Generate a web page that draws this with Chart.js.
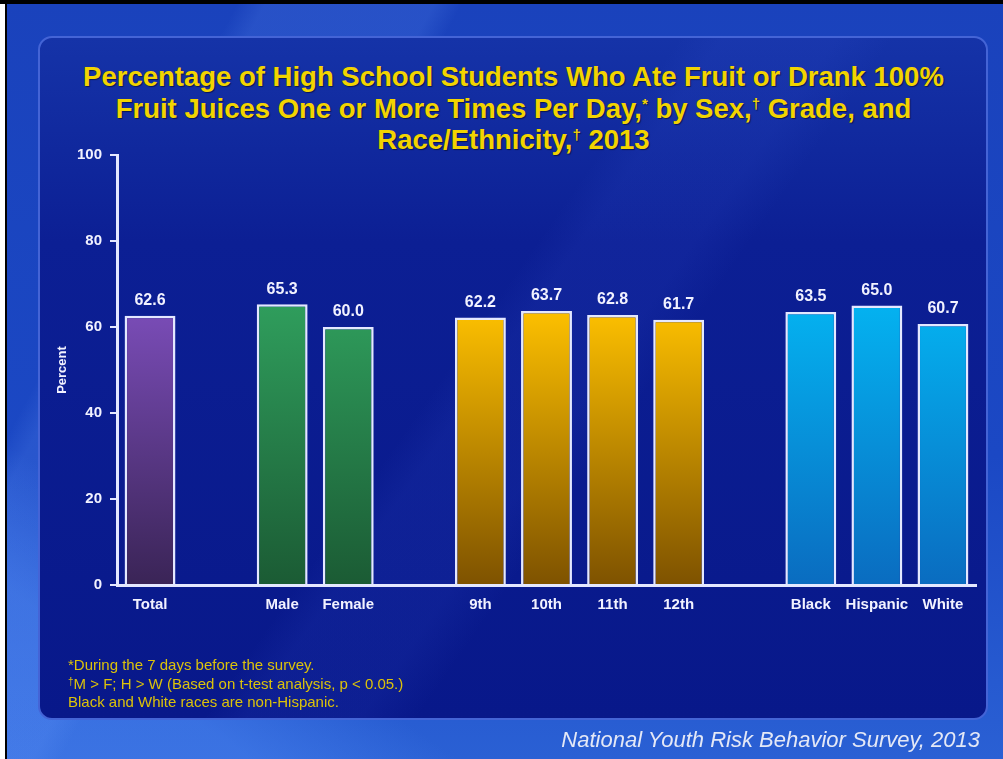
<!DOCTYPE html>
<html>
<head>
<meta charset="utf-8">
<title>Fruit or 100% fruit juice, YRBS 2013</title>
<script src="https://cdn.jsdelivr.net/npm/chart.js@4.4.1/dist/chart.umd.min.js"></script>
<style>
    html, body { margin: 0; padding: 0; }
    body {
        width: 1003px; height: 759px; overflow: hidden; position: relative;
        font-family: Arial, "Liberation Sans", sans-serif;
        background:
            linear-gradient(118deg, rgba(255,255,255,0) 0 17%, rgba(110,160,255,0.16) 19% 31%, rgba(255,255,255,0) 33%),
            linear-gradient(35deg, rgba(90,150,255,0.35) 0 12%, rgba(255,255,255,0) 22%),
            linear-gradient(180deg, #1a42bc 0%, #1b48c4 60%, #2a60d4 100%);
    }
    .borde-blanco { position: absolute; left: 0; top: 0; width: 5px; height: 759px; background: #fff; }
    .borde-negro-izq { position: absolute; left: 5px; top: 0; width: 2px; height: 759px; background: #000; }
    .borde-negro-sup { position: absolute; left: 0; top: 0; width: 1003px; height: 4px; background: #000; }
    .panel {
        position: absolute; left: 38px; top: 36px; width: 950px; height: 684px;
        border-radius: 14px; box-sizing: border-box;
        border: 2px solid #4464d6;
        background:
            linear-gradient(125deg, rgba(255,255,255,0) 0 45%, rgba(60,90,220,0.10) 48% 56%, rgba(255,255,255,0) 60%),
            linear-gradient(180deg, #1533a8 0%, #0c1f94 30%, #08188a 100%);
    }
    .titulo {
        position: absolute; left: 24px; top: 61px; width: 979px; text-align: center;
        color: #f2d400; font-weight: bold; font-size: 27.5px; line-height: 31.5px;
        text-shadow: 1px 1px 1px rgba(0,0,0,0.5);
    }
    .titulo sup { font-size: 15px; line-height: 0; vertical-align: 9px; }
    .notas {
        position: absolute; left: 68px; top: 656px; color: #dcc20a;
        font-size: 15px; line-height: 18.5px;
    }
    .notas sup { font-size: 10px; line-height: 0; vertical-align: 4px; }
    .fuente {
        position: absolute; right: 23px; top: 727px; color: #e4e8f6;
        font-style: italic; font-size: 22px;
    }
    #grafico { position: absolute; left: 0; top: 0; }
</style>
</head>
<body>
<div class="panel"></div>
<div class="borde-blanco"></div>
<div class="borde-negro-izq"></div>
<div class="borde-negro-sup"></div>
<div class="titulo">
    Percentage of High School Students Who Ate Fruit or Drank 100%<br>
    Fruit Juices One or More Times Per Day,<sup>*</sup> by Sex,<sup>†</sup> Grade, and<br>
    Race/Ethnicity,<sup>†</sup> 2013
</div>
<canvas id="grafico" width="1003" height="759"></canvas>
<div class="notas">
    *During the 7 days before the survey.<br>
    <sup>†</sup>M &gt; F; H &gt; W (Based on t-test analysis, p &lt; 0.05.)<br>
    Black and White races are non-Hispanic.
</div>
<div class="fuente">National Youth Risk Behavior Survey, 2013</div>

<script>
// Datos del gráfico (los huecos separan los grupos)
const categorias = ['Total', '', 'Male', 'Female', '', '9th', '10th', '11th', '12th', '', 'Black', 'Hispanic', 'White'];
const porcentajes = [62.6, null, 65.3, 60.0, null, 62.2, 63.7, 62.8, 61.7, null, 63.5, 65.0, 60.7];
const grupos = ['total', null, 'sexo', 'sexo', null, 'grado', 'grado', 'grado', 'grado', null, 'raza', 'raza', 'raza'];
const ticksY = [0, 20, 40, 60, 80, 100];

// Colores de cada grupo: [arriba, abajo]
const coloresGrupo = {
    total: ['#7b4db9', '#3a2456'],
    sexo:  ['#2f9d5c', '#1b5b34'],
    grado: ['#ffc200', '#7e5200'],
    raza:  ['#04b2f0', '#0a6cc0']
};

Chart.defaults.font.family = 'Arial, "Liberation Sans", sans-serif';

// Relleno degradado de cada barra
function rellenoBarra(ctx) {
    const chart = ctx.chart;
    const area = chart.chartArea;
    const grupo = grupos[ctx.dataIndex];
    if (!area || !grupo) return 'transparent';
    const y = chart.scales.y;
    const g = chart.ctx.createLinearGradient(0, y.getPixelForValue(65), 0, y.getPixelForValue(0));
    g.addColorStop(0, coloresGrupo[grupo][0]);
    g.addColorStop(1, coloresGrupo[grupo][1]);
    return g;
}

// Plugin para escribir el valor encima de cada barra
const etiquetasValor = {
    id: 'etiquetasValor',
    afterDatasetsDraw(chart) {
        const ctx = chart.ctx;
        const meta = chart.getDatasetMeta(0);
        ctx.save();
        ctx.fillStyle = '#f2f2ff';
        ctx.font = 'bold 16px Arial, "Liberation Sans", sans-serif';
        ctx.textAlign = 'center';
        ctx.textBaseline = 'middle';
        meta.data.forEach((barra, i) => {
            const valor = porcentajes[i];
            if (valor === null) return;
            ctx.fillText(valor.toFixed(1), barra.x, barra.y - 15);
        });
        ctx.restore();
    }
};

const config = {
    type: 'bar',
    data: {
        labels: categorias,
        datasets: [{
            data: porcentajes,
            backgroundColor: rellenoBarra,
            borderColor: '#e4e8ff',
            borderWidth: 2.5,
            barPercentage: 0.77,
            categoryPercentage: 1
        }]
    },
    options: {
        responsive: false,
        devicePixelRatio: 1,
        animation: false,
        layout: {
            padding: { top: 155, left: 47, right: 27, bottom: 134 }
        },
        plugins: {
            legend: { display: false },
            tooltip: { enabled: false }
        },
        scales: {
            x: {
                afterFit: (scale) => { scale.height = 40; },
                grid: { drawOnChartArea: false, drawTicks: false },
                border: { display: true, color: '#e4e8ff', width: 3 },
                ticks: {
                    color: '#f2f2ff',
                    padding: 11,
                    maxRotation: 0,
                    autoSkip: false,
                    font: { size: 15, weight: 'bold' }
                }
            },
            y: {
                min: 0,
                max: 100,
                afterFit: (scale) => { scale.width = 70; },
                afterBuildTicks: (scale) => { scale.ticks = ticksY.map(v => ({ value: v })); },
                grid: { drawOnChartArea: false, drawTicks: true, tickLength: 7, color: '#e4e8ff', lineWidth: 2 },
                border: { display: true, color: '#e4e8ff', width: 3 },
                ticks: {
                    color: '#f2f2ff',
                    padding: 8,
                    font: { size: 15, weight: 'bold' }
                },
                title: {
                    display: true,
                    text: 'Percent',
                    color: '#f2f2ff',
                    padding: { top: 8, bottom: 0 },
                    font: { size: 13, weight: 'bold' }
                }
            }
        }
    },
    plugins: [etiquetasValor]
};

const grafico = new Chart(document.getElementById('grafico'), config);
</script>
</body>
</html>
